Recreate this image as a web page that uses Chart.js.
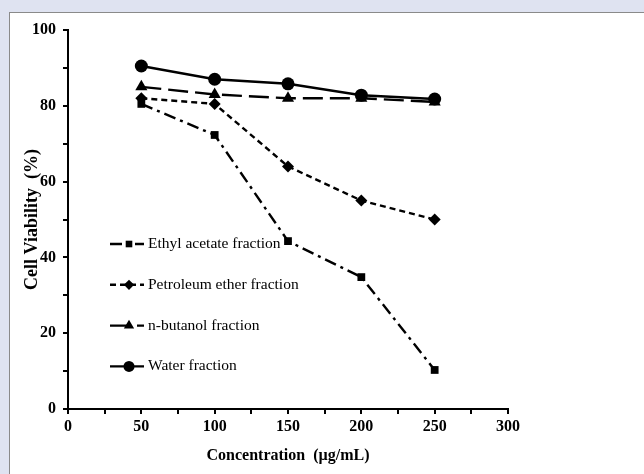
<!DOCTYPE html>
<html>
<head>
<meta charset="utf-8">
<script src="https://cdn.jsdelivr.net/npm/chart.js@4"></script>
<style>
  html, body { margin: 0; padding: 0; background: #dfe3f1; overflow: hidden; }
  #panel { position: absolute; left: 9px; top: 12px; width: 640px; height: 470px;
           background: #fff; border: 1px solid #8a8a8a; }
  #chart { position: absolute; left: 0; top: 0; }
</style>
</head>
<body>
<div id="panel"><canvas id="chart" width="634" height="461"></canvas></div>
<script>
const concentrations = [50, 100, 150, 200, 250];
const ethylAcetate = [80.5, 72.3, 44.3, 34.8, 10.3];
const petroleumEther = [82, 80.5, 64, 55, 50];
const nButanol = [85, 83, 82, 82, 81];
const water = [90.5, 87, 85.8, 82.8, 81.8];
const seriesLabels = ['Ethyl acetate fraction', 'Petroleum ether fraction', 'n-butanol fraction', 'Water fraction'];
const xTitle = 'Concentration  (\u00b5g/mL)';
const yTitle = 'Cell Viability  (%)';

const serif = "'Liberation Serif', 'Times New Roman', serif";

function makeSet(label, values, dash, marker, radius) {
  return {
    label: label,
    data: concentrations.map((c, i) => ({ x: c, y: values[i] })),
    borderColor: '#000',
    backgroundColor: '#000',
    borderWidth: 2.4,
    borderDash: dash,
    pointStyle: marker,
    pointRadius: radius,
    pointHoverRadius: radius,
    pointBorderWidth: 0,
    tension: 0,
    fill: false
  };
}

// legend drawn inside the plot area, from the datasets
const innerLegend = {
  id: 'innerLegend',
  afterDraw(chart, args, opts) {
    const ctx = chart.ctx;
    ctx.save();
    chart.data.datasets.forEach((ds, i) => {
      const y = opts.top + i * opts.gap;
      ctx.strokeStyle = ds.borderColor;
      ctx.lineWidth = ds.borderWidth;
      ctx.setLineDash(ds.borderDash || []);
      ctx.beginPath();
      ctx.moveTo(opts.left, y);
      ctx.lineTo(opts.left + opts.lineLen, y);
      ctx.stroke();
      ctx.setLineDash([]);
      ctx.fillStyle = ds.backgroundColor;
      Chart.helpers.drawPoint(ctx, { pointStyle: ds.pointStyle, radius: ds.pointRadius * 0.85, borderWidth: 0 },
        opts.left + opts.lineLen / 2 + 2, y);
      ctx.fillStyle = '#000';
      ctx.font = '15.5px ' + serif;
      ctx.textBaseline = 'middle';
      ctx.fillText(ds.label, opts.left + opts.lineLen + 4, y);
    });
    ctx.restore();
  }
};

new Chart(document.getElementById('chart'), {
  type: 'line',
  data: {
    datasets: [
      makeSet(seriesLabels[0], ethylAcetate, [12, 5, 3, 5], 'rect', 5.5),
      makeSet(seriesLabels[1], petroleumEther, [6, 4], 'rectRot', 6),
      makeSet(seriesLabels[2], nButanol, [20, 7], 'triangle', 7),
      makeSet(seriesLabels[3], water, [], 'circle', 6.5)
    ]
  },
  plugins: [innerLegend],
  options: {
    responsive: false,
    animation: false,
    layout: { padding: { left: 0, top: 17, right: 136, bottom: 0 } },
    plugins: {
      legend: { display: false },
      tooltip: { enabled: false },
      innerLegend: { left: 100, top: 231, gap: 40.8, lineLen: 34 }
    },
    scales: {
      x: {
        type: 'linear',
        min: 0, max: 300,
        afterFit(axis) { axis.height = 65; },
        border: { display: true, color: '#000', width: 2 },
        grid: { display: true, drawOnChartArea: false, drawTicks: true, tickLength: 5, color: '#000', lineWidth: 2 },
        ticks: {
          stepSize: 25, autoSkip: false, maxRotation: 0, padding: 3, color: '#000',
          font: { family: serif, size: 16, weight: 'bold' },
          callback: v => (v % 50 === 0 ? v : '')
        },
        title: {
          display: true, text: xTitle, color: '#000',
          font: { family: serif, size: 16, weight: 'bold' },
          padding: { top: 0, bottom: 9 }
        }
      },
      y: {
        min: 0, max: 100,
        afterFit(axis) { axis.width = 58; },
        border: { display: true, color: '#000', width: 2 },
        grid: { display: true, drawOnChartArea: false, drawTicks: true, tickLength: 5, color: '#000', lineWidth: 2 },
        ticks: {
          stepSize: 10, autoSkip: false, padding: 7, color: '#000',
          font: { family: serif, size: 16, weight: 'bold' },
          callback: v => (v % 20 === 0 ? v : '')
        },
        title: {
          display: true, text: yTitle, color: '#000',
          font: { family: serif, size: 18, weight: 'bold' },
          padding: { top: 12, bottom: 0 }
        }
      }
    }
  }
});
</script>
</body>
</html>
